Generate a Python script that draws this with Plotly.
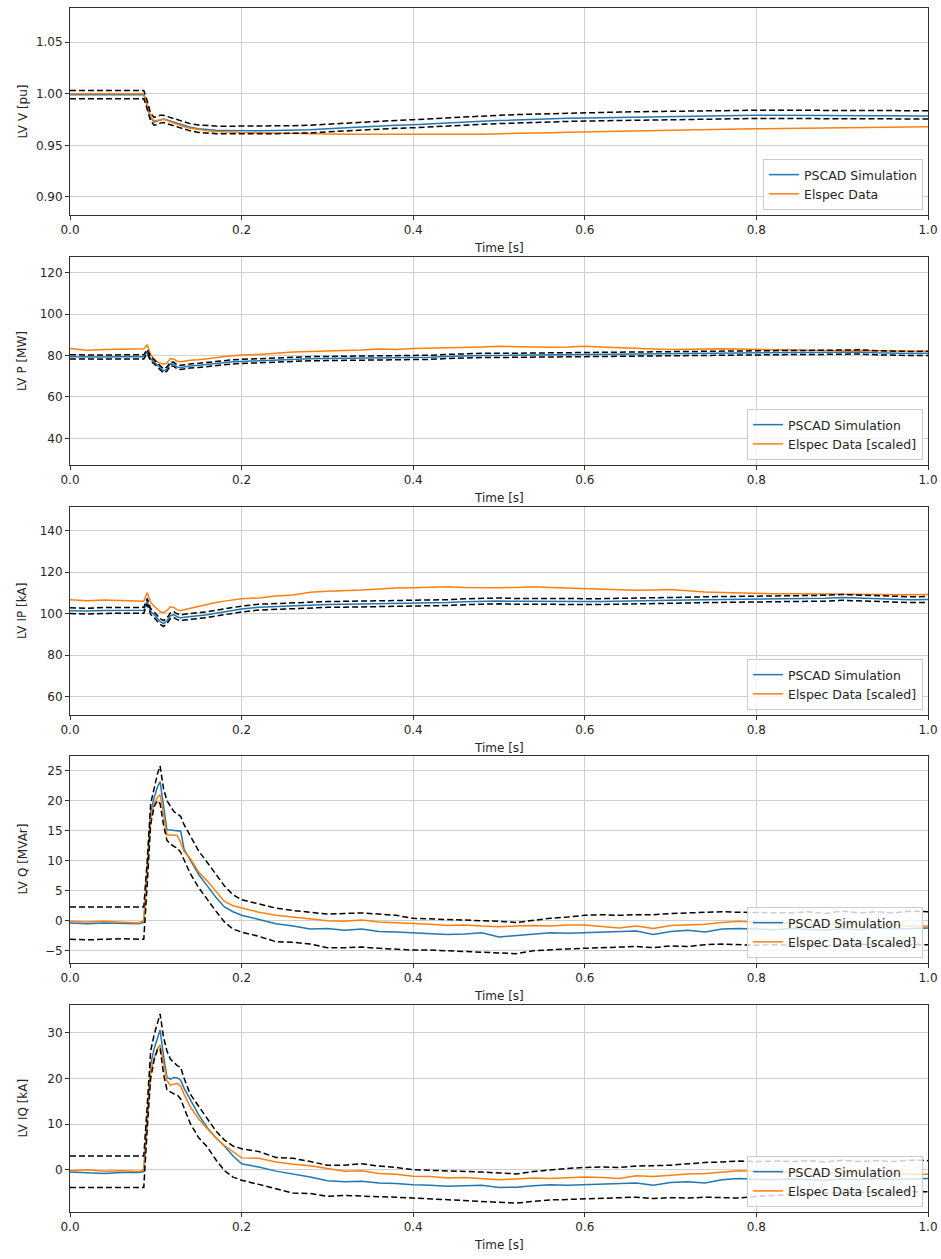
import plotly.graph_objects as go

# ---------------------------------------------------------------- data
t = [
    0.000, 0.020, 0.040, 0.060, 0.080, 0.086, 0.090, 0.094, 0.098, 0.102,
    0.105, 0.109, 0.113, 0.117, 0.121, 0.125, 0.129, 0.133, 0.140, 0.150,
    0.160, 0.170, 0.180, 0.190, 0.200, 0.220, 0.240, 0.260, 0.280, 0.300,
    0.320, 0.340, 0.360, 0.380, 0.400, 0.420, 0.440, 0.460, 0.480, 0.500,
    0.520, 0.540, 0.560, 0.580, 0.600, 0.620, 0.640, 0.660, 0.680, 0.700,
    0.720, 0.740, 0.760, 0.780, 0.800, 0.820, 0.840, 0.860, 0.880, 0.900,
    0.920, 0.940, 0.960, 0.980, 1.000,
]

# LV voltage [pu]
v_sim = [
    0.999, 0.999, 0.999, 0.999, 0.999, 0.999, 0.988, 0.977, 0.9725, 0.9735,
    0.975, 0.9755, 0.9745, 0.9735, 0.9722, 0.971, 0.970, 0.969, 0.9675, 0.966,
    0.965, 0.9645, 0.9643, 0.9641, 0.964, 0.9641, 0.9643, 0.9645, 0.965, 0.966,
    0.967, 0.968, 0.9688, 0.9695, 0.970, 0.971, 0.9718, 0.9725, 0.9733, 0.974,
    0.9747, 0.9752, 0.9757, 0.9761, 0.9765, 0.9768, 0.9771, 0.9774, 0.9777, 0.978,
    0.9782, 0.9785, 0.9787, 0.9788, 0.979, 0.979, 0.979, 0.979, 0.979, 0.979,
    0.9789, 0.9788, 0.9787, 0.9786, 0.9785,
]
v_meas = [
    1.000, 1.000, 1.000, 1.000, 1.000, 1.000, 0.989, 0.9775, 0.9735, 0.974,
    0.975, 0.9752, 0.974, 0.9728, 0.9714, 0.970, 0.969, 0.968, 0.9665, 0.965,
    0.964, 0.9633, 0.9628, 0.9625, 0.9623, 0.9621, 0.9617, 0.9613, 0.961, 0.9608,
    0.9607, 0.9606, 0.9605, 0.9604, 0.9603, 0.9603, 0.9604, 0.9606, 0.9608, 0.961,
    0.9614, 0.9618, 0.9622, 0.9626, 0.963, 0.9634, 0.9638, 0.9642, 0.9646, 0.965,
    0.9652, 0.9655, 0.9657, 0.9659, 0.966, 0.9662, 0.9664, 0.9666, 0.9668, 0.967,
    0.9672, 0.9674, 0.9676, 0.9678, 0.968,
]
v_hi = [
    1.003, 1.003, 1.003, 1.003, 1.003, 1.003, 0.993, 0.981, 0.977, 0.978,
    0.979, 0.979, 0.978, 0.977, 0.9758, 0.9745, 0.9735, 0.9725, 0.971, 0.9697,
    0.969, 0.9686, 0.9685, 0.9685, 0.9685, 0.9686, 0.9688, 0.969, 0.9695, 0.9705,
    0.9716, 0.9726, 0.9734, 0.9741, 0.9748, 0.9758, 0.9767, 0.9775, 0.9783, 0.9791,
    0.9798, 0.9803, 0.9808, 0.9812, 0.9816, 0.9819, 0.9822, 0.9825, 0.9828, 0.9831,
    0.9833, 0.9835, 0.9837, 0.9838, 0.984, 0.984, 0.984, 0.984, 0.984, 0.984,
    0.9839, 0.9838, 0.9837, 0.9836, 0.9835,
]
v_lo = [
    0.995, 0.995, 0.995, 0.995, 0.995, 0.995, 0.985, 0.9735, 0.9695, 0.970,
    0.9715, 0.972, 0.971, 0.970, 0.9688, 0.9675, 0.9665, 0.9655, 0.964, 0.9625,
    0.9617, 0.9613, 0.9611, 0.961, 0.961, 0.9611, 0.9613, 0.9615, 0.962, 0.963,
    0.964, 0.965, 0.9658, 0.9665, 0.967, 0.968, 0.9688, 0.9695, 0.9703, 0.971,
    0.9717, 0.9722, 0.9727, 0.9731, 0.9735, 0.9738, 0.9741, 0.9744, 0.9747, 0.975,
    0.9752, 0.9755, 0.9757, 0.9758, 0.976, 0.976, 0.976, 0.976, 0.976, 0.976,
    0.9759, 0.9758, 0.9757, 0.9756, 0.9755,
]

# LV active power [MW]
p_sim = [
    79.4, 79.2, 79.3, 79.4, 79.3, 79.4, 82.0, 78.4, 77.0, 75.5,
    74.5, 72.6, 73.5, 76.0, 75.8, 74.5, 74.3, 74.6, 75.0, 75.3,
    75.8, 76.3, 76.7, 77.0, 77.2, 77.6, 78.0, 78.3, 78.5, 78.6,
    78.7, 78.7, 78.8, 78.9, 78.9, 79.2, 79.6, 79.9, 80.1, 80.1,
    80.2, 80.2, 80.2, 80.3, 80.3, 80.4, 80.5, 80.6, 80.7, 80.9,
    81.0, 81.1, 81.2, 81.3, 81.3, 81.4, 81.5, 81.5, 81.6, 81.7,
    81.8, 81.4, 81.1, 81.0, 81.1,
]
p_meas = [
    83.4, 82.6, 83.0, 83.0, 83.3, 83.3, 85.3, 80.5, 78.5, 77.0,
    76.5, 75.8, 76.5, 78.6, 78.3, 77.3, 77.0, 77.4, 77.8, 78.0,
    78.4, 79.0, 79.6, 80.0, 80.3, 80.6, 81.3, 81.7, 82.0, 82.2,
    82.5, 82.7, 83.2, 83.0, 83.5, 83.6, 83.8, 84.0, 84.2, 84.5,
    84.3, 84.3, 84.1, 84.2, 84.5, 84.2, 83.8, 83.4, 83.2, 83.0,
    83.2, 83.4, 83.3, 83.2, 83.0, 82.8, 82.6, 82.6, 82.4, 82.3,
    82.5, 82.4, 82.2, 82.0, 82.1,
]
p_hi = [
    80.4, 80.2, 80.3, 80.4, 80.3, 80.4, 83.0, 79.4, 78.0, 76.5,
    75.5, 73.6, 74.5, 77.0, 76.8, 75.5, 75.3, 75.6, 76.0, 76.3,
    76.8, 77.3, 77.7, 78.0, 78.2, 78.6, 79.0, 79.3, 79.5, 79.6,
    79.7, 79.7, 79.8, 79.9, 79.9, 80.2, 80.6, 80.9, 81.1, 81.1,
    81.2, 81.2, 81.2, 81.3, 81.3, 81.4, 81.5, 81.6, 81.7, 81.9,
    82.0, 82.1, 82.2, 82.3, 82.3, 82.4, 82.5, 82.5, 82.6, 82.7,
    82.8, 82.4, 82.1, 82.0, 82.1,
]
p_lo = [
    78.4, 78.2, 78.3, 78.4, 78.3, 78.4, 81.0, 77.4, 76.0, 74.5,
    73.5, 71.6, 72.5, 75.0, 74.8, 73.5, 73.3, 73.6, 74.0, 74.3,
    74.8, 75.3, 75.7, 76.0, 76.2, 76.6, 77.0, 77.3, 77.5, 77.6,
    77.7, 77.7, 77.8, 77.9, 77.9, 78.2, 78.6, 78.9, 79.1, 79.1,
    79.2, 79.2, 79.2, 79.3, 79.3, 79.4, 79.5, 79.6, 79.7, 79.9,
    80.0, 80.1, 80.2, 80.3, 80.3, 80.4, 80.5, 80.5, 80.6, 80.7,
    80.8, 80.4, 80.1, 80.0, 80.1,
]

# LV active current [kA]
ip_sim = [
    101.4, 101.2, 101.5, 101.4, 101.5, 101.6, 105.9, 101.0, 99.5, 97.5,
    96.2, 95.2, 96.5, 99.0, 99.5, 98.5, 97.9, 98.3, 98.6, 98.9,
    99.5, 100.2, 100.9, 101.5, 102.2, 103.1, 103.5, 103.8, 104.2, 104.4,
    104.5, 104.6, 104.6, 104.7, 104.8, 105.0, 105.3, 105.7, 106.0, 106.1,
    105.9, 105.8, 105.8, 105.8, 105.8, 105.8, 105.9, 106.2, 106.0, 106.3,
    106.5, 106.7, 106.8, 106.8, 106.9, 107.0, 107.0, 107.1, 107.4, 107.8,
    107.5, 107.0, 106.8, 106.7, 106.8,
]
ip_meas = [
    106.7, 106.2, 106.5, 106.3, 105.9, 106.0, 110.0, 105.5, 103.5, 102.0,
    101.0, 100.3, 101.5, 103.3, 103.0, 101.8, 101.4, 101.9, 102.6, 103.5,
    104.5, 105.3, 106.0, 106.7, 107.2, 107.5, 108.5, 109.0, 110.3, 110.8,
    111.0, 111.3, 111.8, 112.3, 112.4, 112.6, 112.9, 112.6, 112.4, 112.4,
    112.6, 112.9, 112.5, 112.2, 112.0, 111.8, 111.5, 111.2, 111.4, 111.6,
    111.0, 110.4, 110.2, 109.9, 109.6, 109.5, 109.6, 109.5, 109.4, 109.5,
    109.3, 109.2, 109.2, 109.1, 109.2,
]
ip_hi = [
    102.8, 102.6, 102.9, 102.8, 102.9, 103.0, 107.3, 102.4, 100.9, 98.9,
    97.6, 96.6, 97.9, 100.4, 100.9, 99.9, 99.3, 99.7, 100.0, 100.3,
    100.9, 101.6, 102.3, 102.9, 103.6, 104.5, 104.9, 105.2, 105.6, 105.8,
    105.9, 106.0, 106.0, 106.1, 106.2, 106.4, 106.7, 107.1, 107.4, 107.5,
    107.3, 107.2, 107.2, 107.2, 107.2, 107.2, 107.3, 107.6, 107.4, 107.7,
    107.9, 108.1, 108.2, 108.2, 108.3, 108.4, 108.4, 108.5, 108.8, 109.2,
    108.9, 108.4, 108.2, 108.1, 108.2,
]
ip_lo = [
    100.0, 99.8, 100.1, 100.0, 100.1, 100.2, 104.5, 99.6, 98.1, 96.1,
    94.8, 93.8, 95.1, 97.6, 98.1, 97.1, 96.5, 96.9, 97.2, 97.5,
    98.1, 98.8, 99.5, 100.1, 100.8, 101.7, 102.1, 102.4, 102.8, 103.0,
    103.1, 103.2, 103.2, 103.3, 103.4, 103.6, 103.9, 104.3, 104.6, 104.7,
    104.5, 104.4, 104.4, 104.4, 104.4, 104.4, 104.5, 104.8, 104.6, 104.9,
    105.1, 105.3, 105.4, 105.4, 105.5, 105.6, 105.6, 105.7, 106.0, 106.4,
    106.1, 105.6, 105.4, 105.3, 105.4,
]

# LV reactive power [MVAr]
q_sim = [
    -0.4, -0.5, -0.4, -0.5, -0.5, -0.3, 9.0, 18.0, 20.5, 22.3,
    23.2, 19.5, 15.1, 15.1, 15.0, 15.0, 14.9, 11.9, 10.2, 7.7,
    5.8, 3.9, 2.3, 1.5, 0.9, 0.2, -0.5, -0.9, -1.4, -1.3,
    -1.6, -1.4, -1.8, -1.9, -2.0, -2.2, -2.3, -2.2, -2.0, -2.7,
    -2.5, -2.2, -2.0, -2.1, -2.0, -1.9, -1.9, -1.7, -2.3, -1.8,
    -1.6, -1.9, -1.4, -1.3, -1.4, -1.5, -1.3, -1.4, -1.6, -1.3,
    -1.5, -1.2, -1.4, -1.3, -1.2,
]
q_meas = [
    -0.1, -0.2, -0.1, -0.2, -0.4, 0.0, 8.0, 17.0, 19.5, 20.6,
    21.0, 17.5, 14.3, 14.3, 14.3, 14.2, 13.0, 11.5, 10.4, 8.1,
    6.6, 4.9, 3.2, 2.5, 2.1, 1.4, 0.9, 0.6, 0.3, 0.0,
    -0.1, 0.1, -0.2, -0.3, -0.4, -0.6, -0.8, -0.7, -0.9, -1.0,
    -0.9, -0.8, -0.9, -0.7, -0.7, -0.9, -1.2, -0.9, -1.3, -0.8,
    -0.7, -0.6, -0.3, -0.1, -0.3, -0.5, -0.4, -0.6, -0.7, -0.5,
    -0.6, -0.8, -0.7, -0.9, -0.9,
]
q_hi = [
    2.3, 2.3, 2.4, 2.3, 2.3, 2.3, 10.0, 19.5, 22.0, 24.5,
    25.8, 22.0, 20.0, 19.0, 18.2, 17.8, 17.4, 16.0, 14.1, 11.6,
    9.7, 7.7, 5.8, 4.3, 3.5, 2.8, 2.1, 1.7, 1.4, 1.1,
    1.2, 1.3, 1.1, 0.9, 0.4, 0.3, 0.3, 0.2, 0.1, -0.1,
    -0.3, 0.1, 0.4, 0.6, 0.9, 1.0, 0.9, 1.0, 1.0, 1.2,
    1.3, 1.5, 1.5, 1.4, 1.4, 1.4, 1.3, 1.5, 1.2, 1.6,
    1.3, 1.5, 1.3, 1.6, 1.5,
]
q_lo = [
    -3.1, -3.2, -3.1, -3.0, -3.1, -3.1, 6.0, 16.0, 19.0, 20.0,
    19.5, 16.0, 13.4, 12.8, 12.4, 12.1, 11.4, 10.2, 7.9, 5.5,
    3.5, 1.6, -0.2, -1.4, -1.9, -2.6, -3.5, -3.6, -3.9, -4.5,
    -4.5, -4.4, -4.6, -4.8, -4.9, -4.9, -5.0, -5.1, -5.2, -5.3,
    -5.5, -5.0, -4.8, -4.7, -4.6, -4.5, -4.4, -4.3, -4.5, -4.2,
    -4.3, -4.0, -3.9, -4.0, -4.1, -4.0, -4.1, -3.9, -4.2, -4.0,
    -3.9, -4.1, -4.0, -4.0, -4.0,
]

# LV reactive current [kA]
iq_sim = [
    -0.5, -0.6, -0.8, -0.6, -0.6, -0.4, 12.0, 23.0, 26.5, 29.0,
    30.6, 25.0, 20.2, 19.8, 20.2, 20.1, 19.6, 17.8, 15.3, 12.0,
    9.2, 7.0, 5.2, 3.0, 1.3, 0.6, -0.3, -0.9, -1.6, -2.4,
    -2.6, -2.5, -2.9, -3.0, -3.3, -3.4, -3.6, -3.5, -3.4, -3.9,
    -3.8, -3.5, -3.3, -3.4, -3.3, -3.2, -3.1, -2.9, -3.4, -2.8,
    -2.6, -2.9, -2.2, -1.9, -2.1, -2.2, -2.0, -2.2, -2.3, -2.0,
    -2.2, -1.9, -2.1, -2.0, -1.9,
]
iq_meas = [
    -0.2, 0.0, -0.3, -0.2, -0.4, 0.0, 11.0, 21.5, 24.5, 26.5,
    27.3, 23.0, 19.5, 18.5, 18.7, 18.9, 18.3, 16.5, 13.8, 11.1,
    9.0, 7.0, 5.3, 4.0, 2.6, 2.5, 1.7, 1.2, 0.9, 0.3,
    -0.3, -0.2, -0.8, -1.0, -1.4, -1.5, -1.8, -1.7, -2.0, -2.2,
    -2.0, -1.8, -1.9, -1.7, -1.6, -1.7, -1.9, -1.3, -1.5, -1.2,
    -0.9, -0.8, -0.5, -0.2, -0.4, -0.6, -0.5, -0.7, -0.8, -0.6,
    -0.7, -0.9, -0.8, -1.0, -1.0,
]
iq_hi = [
    3.0, 3.0, 3.1, 3.0, 3.0, 3.0, 14.0, 26.0, 29.5, 32.0,
    34.1, 29.0, 26.0, 24.2, 23.5, 22.8, 22.4, 20.0, 16.6, 13.9,
    11.2, 8.5, 6.5, 5.2, 4.6, 4.0, 2.7, 2.5, 1.8, 1.0,
    1.0, 1.3, 0.8, 0.5, 0.0, -0.1, -0.2, -0.3, -0.5, -0.7,
    -0.9, -0.4, 0.0, 0.3, 0.5, 0.6, 0.5, 0.8, 0.9, 1.0,
    1.3, 1.6, 1.7, 1.9, 1.8, 1.9, 1.8, 2.0, 1.7, 2.1,
    1.8, 2.0, 1.8, 2.1, 2.0,
]
iq_lo = [
    -3.9, -3.9, -3.9, -4.0, -3.9, -3.9, 9.0, 20.0, 24.0, 26.3,
    26.6, 21.0, 17.5, 17.0, 16.6, 16.4, 15.5, 13.5, 10.2, 7.0,
    5.0, 2.2, -0.2, -1.6, -2.3, -3.2, -4.2, -5.1, -5.2, -5.8,
    -5.6, -5.8, -5.9, -6.0, -6.2, -6.4, -6.5, -6.7, -6.9, -7.2,
    -7.3, -6.9, -6.6, -6.5, -6.4, -6.3, -6.2, -6.0, -6.3, -6.1,
    -6.2, -6.0, -6.1, -6.2, -5.8, -5.6, -5.4, -5.2, -5.1, -5.0,
    -4.9, -4.9, -4.8, -4.8, -4.8,
]

x_ticks = [0.0, 0.2, 0.4, 0.6, 0.8, 1.0]

# ---------------------------------------------------------------- layout helpers
W, H = 941, 1259
BLUE, ORANGE = "#1f77b4", "#ff7f0e"
FONT = "DejaVu Sans"
TXT = "#262626"
X_LEFT, X_RIGHT = 70, 928

panels = [
    dict(sim=v_sim, meas=v_meas, hi=v_hi, lo=v_lo, ylabel="LV V [pu]",
         meas_name="Elspec Data", yrange=[0.8825, 1.083],
         yticks=[0.90, 0.95, 1.00, 1.05], fmt=".2f", top=8, bot=215),
    dict(sim=p_sim, meas=p_meas, hi=p_hi, lo=p_lo, ylabel="LV P [MW]",
         meas_name="Elspec Data [scaled]", yrange=[27.1, 127.7],
         yticks=[40, 60, 80, 100, 120], fmt="d", top=257, bot=465),
    dict(sim=ip_sim, meas=ip_meas, hi=ip_hi, lo=ip_lo, ylabel="LV IP [kA]",
         meas_name="Elspec Data [scaled]", yrange=[51.2, 151.3],
         yticks=[60, 80, 100, 120, 140], fmt="d", top=507, bot=715),
    dict(sim=q_sim, meas=q_meas, hi=q_hi, lo=q_lo, ylabel="LV Q [MVAr]",
         meas_name="Elspec Data [scaled]", yrange=[-7.05, 27.45],
         yticks=[-5, 0, 5, 10, 15, 20, 25], fmt="d", top=756, bot=963),
    dict(sim=iq_sim, meas=iq_meas, hi=iq_hi, lo=iq_lo, ylabel="LV IQ [kA]",
         meas_name="Elspec Data [scaled]", yrange=[-9.24, 36.05],
         yticks=[0, 10, 20, 30], fmt="d", top=1005, bot=1212),
]

fig = go.Figure()
layout = dict(
    width=W, height=H,
    margin=dict(l=0, r=0, t=0, b=0, autoexpand=False),
    paper_bgcolor="white", plot_bgcolor="white",
    font=dict(family=FONT, size=12, color=TXT),
    annotations=[],
)

dash_style = "6px,3px"

for i, pnl in enumerate(panels):
    s = "" if i == 0 else str(i + 1)
    xa, ya, lg = "x" + s, "y" + s, "legend" + s

    fig.add_trace(go.Scatter(x=t, y=pnl["sim"], mode="lines", name="PSCAD Simulation",
                             line=dict(color=BLUE, width=1.5), xaxis=xa, yaxis=ya, legend=lg))
    fig.add_trace(go.Scatter(x=t, y=pnl["meas"], mode="lines", name=pnl["meas_name"],
                             line=dict(color=ORANGE, width=1.5), xaxis=xa, yaxis=ya, legend=lg))
    for band in ("hi", "lo"):
        fig.add_trace(go.Scatter(x=t, y=pnl[band], mode="lines", showlegend=False,
                                 line=dict(color="black", width=1.5, dash=dash_style),
                                 xaxis=xa, yaxis=ya, hoverinfo="skip"))

    axis_common = dict(
        showgrid=True, gridcolor="#cfcfcf", gridwidth=0.8,
        showline=True, mirror=True, linecolor="#333333", linewidth=1,
        ticks="outside", ticklen=4, tickcolor="#333333", tickwidth=1,
        zeroline=False, automargin=False,
        tickfont=dict(family=FONT, size=12, color=TXT),
    )
    layout["xaxis" + s] = dict(
        axis_common, domain=[X_LEFT / W, X_RIGHT / W], anchor=ya,
        range=[0, 1], tickvals=x_ticks, tickformat=".1f",
    )
    layout["yaxis" + s] = dict(
        axis_common, domain=[1 - pnl["bot"] / H, 1 - pnl["top"] / H], anchor=xa,
        range=pnl["yrange"], tickvals=pnl["yticks"], tickformat=pnl["fmt"],
    )
    layout[lg] = dict(
        x=923 / W, y=1 - (pnl["bot"] - 5) / H, xanchor="right", yanchor="bottom",
        bgcolor="rgba(255,255,255,0.8)", bordercolor="#cccccc", borderwidth=1,
        font=dict(family=FONT, size=12.5, color=TXT), tracegroupgap=0,
    )
    mid = (pnl["top"] + pnl["bot"]) / 2
    layout["annotations"].append(dict(
        text=pnl["ylabel"], xref="paper", yref="paper", x=22 / W, y=1 - mid / H,
        textangle=-90, showarrow=False, xanchor="center", yanchor="middle",
        font=dict(family=FONT, size=12, color=TXT),
    ))
    layout["annotations"].append(dict(
        text="Time [s]", xref="paper", yref="paper", x=(X_LEFT + X_RIGHT) / 2 / W,
        y=1 - (pnl["bot"] + 33) / H, showarrow=False, xanchor="center", yanchor="middle",
        font=dict(family=FONT, size=12, color=TXT),
    ))

fig.update_layout(**layout)
fig.write_html("out.html")
